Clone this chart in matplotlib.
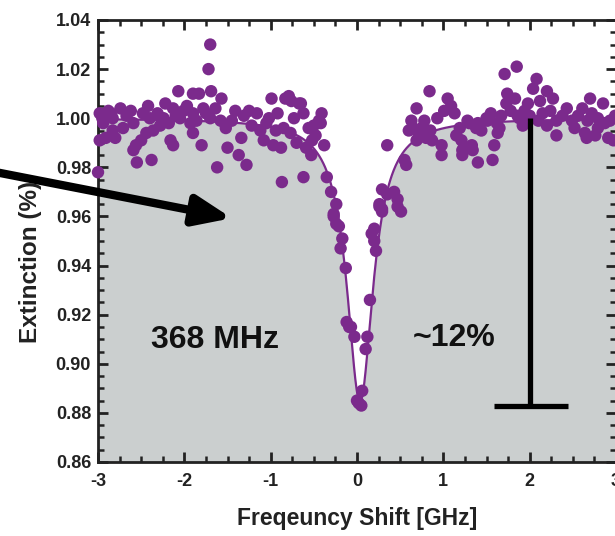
import matplotlib
matplotlib.use("Agg")
import matplotlib.pyplot as plt
import numpy as np
from matplotlib.ticker import MultipleLocator, FormatStrFormatter

plt.rcParams['font.family'] = ['Liberation Sans', 'DejaVu Sans']
plt.rcParams['axes.unicode_minus'] = False

# measured points (frequency shift GHz, extinction)
freq = [-3.00, -2.98, -2.98, -2.95, -2.94, -2.91, -2.88, -2.85, -2.83, -2.83, -2.80, -2.74,
        -2.71, -2.67, -2.62, -2.59, -2.59, -2.56, -2.55, -2.50, -2.48, -2.44, -2.42, -2.40,
        -2.38, -2.36, -2.31, -2.28, -2.24, -2.22, -2.18, -2.16, -2.13, -2.13, -2.10, -2.07,
        -2.05, -2.01, -1.97, -1.93, -1.90, -1.90, -1.90, -1.86, -1.83, -1.80, -1.78, -1.75,
        -1.72, -1.70, -1.70, -1.69, -1.64, -1.62, -1.58, -1.57, -1.52, -1.50, -1.45, -1.41,
        -1.37, -1.34, -1.31, -1.28, -1.25, -1.22, -1.16, -1.12, -1.08, -1.05, -1.02, -0.99,
        -0.97, -0.94, -0.92, -0.88, -0.87, -0.85, -0.83, -0.79, -0.77, -0.76, -0.73, -0.70,
        -0.67, -0.65, -0.62, -0.62, -0.59, -0.56, -0.53, -0.52, -0.50, -0.48, -0.44, -0.42,
        -0.41, -0.38, -0.35, -0.30, -0.27, -0.27, -0.24, -0.24, -0.21, -0.19, -0.17, -0.13,
        -0.12, -0.09, -0.07, -0.03, 0.00, 0.02, 0.05, 0.06, 0.10, 0.12, 0.15, 0.17,
        0.20, 0.20, 0.22, 0.26, 0.26, 0.29, 0.29, 0.29, 0.35, 0.35, 0.43, 0.47,
        0.47, 0.51, 0.55, 0.57, 0.60, 0.63, 0.65, 0.69, 0.69, 0.72, 0.75, 0.78,
        0.80, 0.84, 0.85, 0.87, 0.93, 0.98, 0.98, 1.01, 1.05, 1.09, 1.13, 1.15,
        1.19, 1.21, 1.22, 1.22, 1.24, 1.28, 1.30, 1.33, 1.34, 1.38, 1.40, 1.40,
        1.44, 1.50, 1.51, 1.55, 1.57, 1.59, 1.62, 1.63, 1.65, 1.67, 1.71, 1.73,
        1.74, 1.78, 1.83, 1.85, 1.86, 1.88, 1.92, 1.94, 1.98, 2.00, 2.04, 2.08,
        2.10, 2.12, 2.15, 2.20, 2.20, 2.24, 2.27, 2.31, 2.31, 2.38, 2.43, 2.49,
        2.52, 2.56, 2.61, 2.64, 2.66, 2.67, 2.70, 2.72, 2.76, 2.79, 2.79, 2.85,
        2.87, 2.91, 2.93, 2.97, 2.99]
extinction = [0.978, 1.002, 0.991, 1.000, 0.998, 0.992, 1.003, 1.002, 1.000, 0.995, 0.992, 1.004,
              0.996, 1.001, 1.003, 0.998, 0.987, 0.989, 0.982, 0.991, 1.002, 0.994, 1.005, 1.000,
              0.983, 0.995, 1.002, 0.997, 1.000, 1.006, 0.998, 0.991, 0.989, 1.004, 1.001, 1.011,
              1.000, 1.003, 1.005, 0.998, 1.002, 0.994, 1.010, 0.999, 1.010, 0.989, 1.004, 1.002,
              1.020, 1.030, 1.000, 1.011, 1.004, 0.980, 0.999, 1.008, 0.996, 0.988, 0.999, 1.003,
              0.985, 0.992, 1.001, 0.981, 1.003, 0.997, 1.002, 0.995, 0.991, 0.998, 1.000, 1.008,
              0.989, 0.995, 1.002, 0.988, 0.974, 0.996, 1.008, 1.009, 0.994, 1.007, 1.000, 0.990,
              1.006, 1.006, 0.976, 1.002, 0.988, 0.996, 0.985, 0.991, 0.997, 0.993, 0.999, 0.998,
              1.002, 0.989, 0.976, 0.970, 0.961, 0.960, 0.965, 0.957, 0.956, 0.947, 0.951, 0.939,
              0.917, 0.915, 0.915, 0.911, 0.885, 0.884, 0.883, 0.889, 0.906, 0.911, 0.926, 0.953,
              0.950, 0.955, 0.946, 0.964, 0.965, 0.963, 0.971, 0.962, 0.969, 0.989, 0.970, 0.967,
              0.964, 0.962, 0.983, 0.981, 0.995, 0.999, 0.996, 1.004, 0.991, 0.993, 0.996, 0.999,
              0.992, 1.011, 0.995, 0.991, 1.000, 0.989, 0.985, 1.003, 1.008, 1.005, 1.002, 0.993,
              0.996, 0.991, 0.985, 0.987, 0.988, 0.999, 0.998, 0.989, 0.987, 0.996, 0.998, 0.982,
              0.995, 1.000, 0.999, 1.002, 0.983, 0.989, 0.998, 0.994, 0.996, 1.001, 1.018, 1.006,
              1.010, 1.003, 1.008, 1.021, 1.001, 1.000, 0.997, 1.003, 1.006, 1.001, 1.012, 1.016,
              0.999, 1.007, 1.002, 1.011, 0.997, 1.003, 1.008, 0.999, 0.993, 1.001, 1.004, 0.999,
              0.996, 1.001, 1.004, 0.994, 0.992, 0.999, 1.008, 1.002, 0.993, 1.000, 0.996, 1.006,
              0.998, 0.992, 0.999, 0.991, 1.001]

# Lorentzian fit parameters
fit_baseline = 1.0
fit_depth = 0.1155
fit_center = 0.035
fit_fwhm = 0.37

x_ticks = [-3, -2, -1, 0, 1, 2, 3]
y_ticks = [0.86, 0.88, 0.90, 0.92, 0.94, 0.96, 0.98, 1.00, 1.02, 1.04]

purple = '#7b2a8c'
gray = '#cbcfcf'

fig = plt.figure(figsize=(6.15, 5.36), dpi=100)
ax = fig.add_axes([98/615, 74/536, 518/615, 442/536])
ax.set_xlim(-3, 3)
ax.set_ylim(0.86, 1.04)

xf = np.linspace(-3, 3, 1201)
yf = fit_baseline - fit_depth / (1 + ((xf - fit_center) / (fit_fwhm / 2)) ** 2)
ax.fill_between(xf, 0.86, yf, color=gray, lw=0, zorder=1)
ax.plot(xf, yf, color=purple, lw=1.6, zorder=3)
ax.scatter(freq, extinction, s=80, color=purple, edgecolors='none', zorder=4, clip_on=False)

# depth bar
ax.plot([2.0, 2.0], [fit_baseline, fit_baseline - 0.117], color='black', lw=3.8, zorder=5, solid_capstyle='butt')
ax.plot([1.59, 2.44], [fit_baseline - 0.117, fit_baseline - 0.117], color='black', lw=3.8, zorder=5, solid_capstyle='butt')

ax.text(-1.65, 0.9095, '368 MHz', fontsize=23, fontweight='bold', ha='center', va='center', color='#111111')
ax.text(1.13, 0.9105, '~12%', fontsize=23, fontweight='bold', ha='center', va='center', color='#111111')

ax.xaxis.set_major_locator(plt.FixedLocator(x_ticks))
ax.xaxis.set_minor_locator(MultipleLocator(0.25))
ax.yaxis.set_major_locator(plt.FixedLocator(y_ticks))
ax.yaxis.set_minor_locator(MultipleLocator(0.005))
ax.yaxis.set_major_formatter(FormatStrFormatter('%.2f'))
ax.xaxis.set_major_formatter(FormatStrFormatter('%d'))

ax.tick_params(which='both', direction='in', top=True, right=True, color='#222222')
ax.tick_params(which='major', length=7, width=2)
ax.tick_params(which='minor', length=4, width=1.8)
ax.tick_params(axis='y', which='major', pad=5)
ax.tick_params(axis='x', which='major', pad=8)
for lab in ax.get_xticklabels() + ax.get_yticklabels():
    lab.set_fontweight('bold')
    lab.set_fontsize(13)
    lab.set_color('#222222')
for sp in ax.spines.values():
    sp.set_linewidth(2)
    sp.set_color('#222222')

ax.set_xlabel('Freqeuncy Shift [GHz]', fontsize=16.5, fontweight='bold', color='#222222', labelpad=12)
ax.set_ylabel('Extinction (%)', fontsize=17.5, fontweight='bold', color='#222222')
ax.yaxis.set_label_coords(-0.108, 0.452)

ax.annotate('', xy=(-1.45, 0.9593), xytext=(-4.25, 0.9785),
            arrowprops=dict(arrowstyle='-|>,head_length=2.2,head_width=0.9', lw=6, color='black',
                            mutation_scale=10, shrinkA=0, shrinkB=0),
            annotation_clip=False, zorder=10)

fig.savefig('out.png', dpi=100)
